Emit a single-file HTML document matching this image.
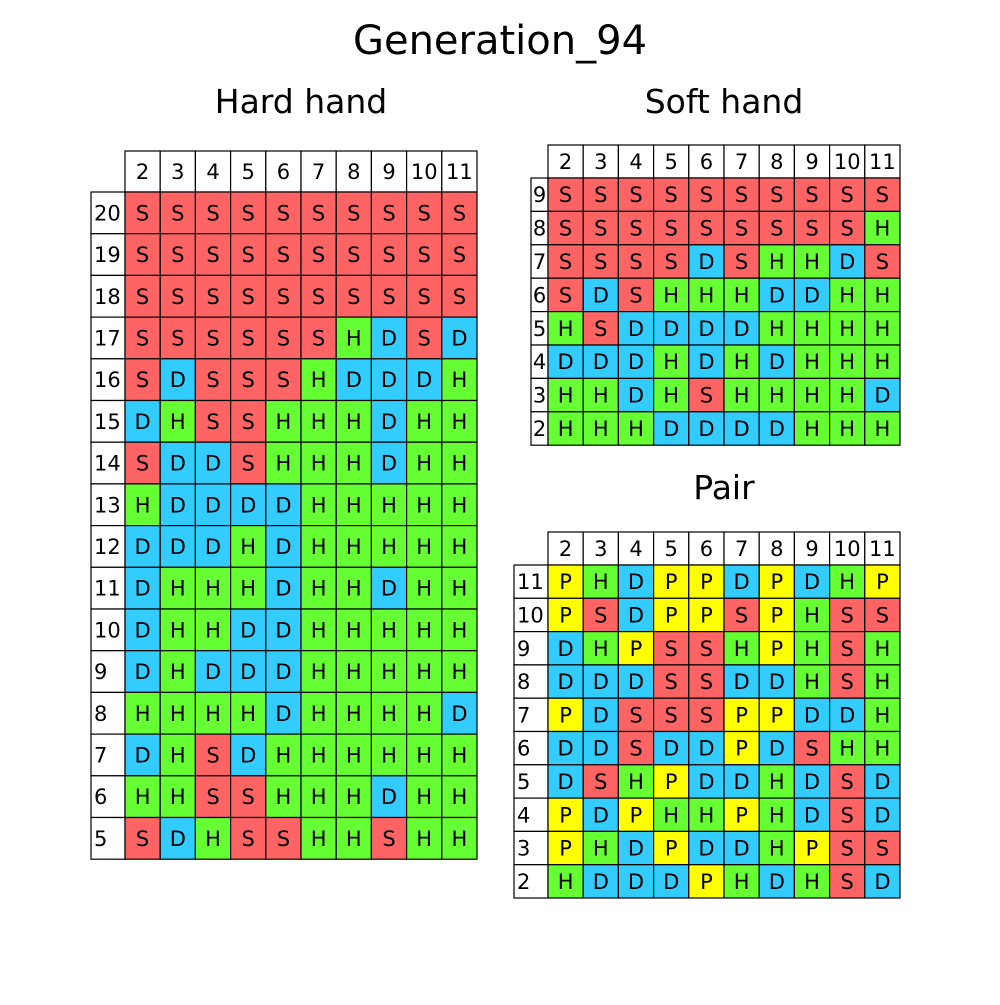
<!DOCTYPE html>
<html><head><meta charset="utf-8">
<style>
html,body{margin:0;padding:0;background:#fff;}
svg text{font-family:"DejaVu Sans","Liberation Sans",sans-serif;fill:#000;}
</style></head>
<body>
<svg id="chart" width="1000" height="1000" viewBox="0 0 1000 1000">
<text x="500" y="54" font-size="40" text-anchor="middle">Generation_94</text>
<text x="301" y="113" font-size="33" text-anchor="middle">Hard hand</text>
<text x="724" y="113" font-size="33" text-anchor="middle">Soft hand</text>
<text x="724" y="499" font-size="33" text-anchor="middle">Pair</text>
</svg>
<script>
const dealerCols = ["2","3","4","5","6","7","8","9","10","11"];
const hardRows = ["20","19","18","17","16","15","14","13","12","11","10","9","8","7","6","5"];
const hardActions = [
"SSSSSSSSSS","SSSSSSSSSS","SSSSSSSSSS","SSSSSSHDSD","SDSSSHDDDH","DHSSHHHDHH",
"SDDSHHHDHH","HDDDDHHHHH","DDDHDHHHHH","DHHHDHHDHH","DHHDDHHHHH","DHDDDHHHHH",
"HHHHDHHHHD","DHSDHHHHHH","HHSSHHHDHH","SDHSSHHSHH"];
const softRows = ["9","8","7","6","5","4","3","2"];
const softActions = ["SSSSSSSSSS","SSSSSSSSSH","SSSSDSHHDS","SDSHHHDDHH","HSDDDDHHHH","DDDHDHDHHH","HHDHSHHHHD","HHHDDDDHHH"];
const pairRows = ["11","10","9","8","7","6","5","4","3","2"];
const pairActions = ["PHDPPDPDHP","PSDPPSPHSS","DHPSSHPHSH","DDDSSDDHSH","PDSSSPPDDH","DDSDDPDSHH","DSHPDDHDSD","PDPHHPHDSD","PHDPDDHPSS","HDDDPHDHSD"];
const colors = {S:"#ff6464",H:"#66ff33",D:"#33ccff",P:"#ffff00"};

const svg = document.getElementById('chart');
const NS = "http://www.w3.org/2000/svg";
function rect(x,y,w,h,fill){
  const r=document.createElementNS(NS,'rect');
  r.setAttribute('x',x);r.setAttribute('y',y);r.setAttribute('width',w);r.setAttribute('height',h);
  r.setAttribute('fill',fill);r.setAttribute('stroke','#000');r.setAttribute('stroke-width','1.2');
  svg.appendChild(r);return r;
}
function txt(x,y,s,anchor){
  const t=document.createElementNS(NS,'text');
  t.setAttribute('x',x);t.setAttribute('y',y);t.setAttribute('font-size','21');
  t.setAttribute('text-anchor',anchor);t.textContent=s;svg.appendChild(t);return t;
}
function table(name,x0,y0,labW,cw,hh,rh,rows,acts,labAnchor){
  dealerCols.forEach((c,j)=>{
    const x=x0+j*cw;
    const r=rect(x,y0,cw,hh,'#fff');
    
    
    const t=txt(x+cw/2,y0+hh/2+7.5,c,'middle');
    
    
  });
  rows.forEach((rl,i)=>{
    const y=y0+hh+i*rh;
    const r=rect(x0-labW,y,labW,rh,'#fff');
    
    
    const lx = labAnchor==='middle'? x0-labW/2 : x0-labW+3;
    const t=txt(lx,y+rh/2+7.5,rl,labAnchor);
    
    
    acts[i].split('').forEach((a,j)=>{
      const x=x0+j*cw;
      const c=rect(x,y,cw,rh,colors[a]);
      
      
      const t2=txt(x+cw/2,y+rh/2+7.5,a,'middle');
      
      
    });
  });
}
table('hard',125,151,34,35.2,41,41.7,hardRows,hardActions,'start');
table('soft',548,145,17,35.2,33,33.4,softRows,softActions,'middle');
table('pair',548,532,34,35.2,33,33.3,pairRows,pairActions,'start');
</script>
</body></html>
